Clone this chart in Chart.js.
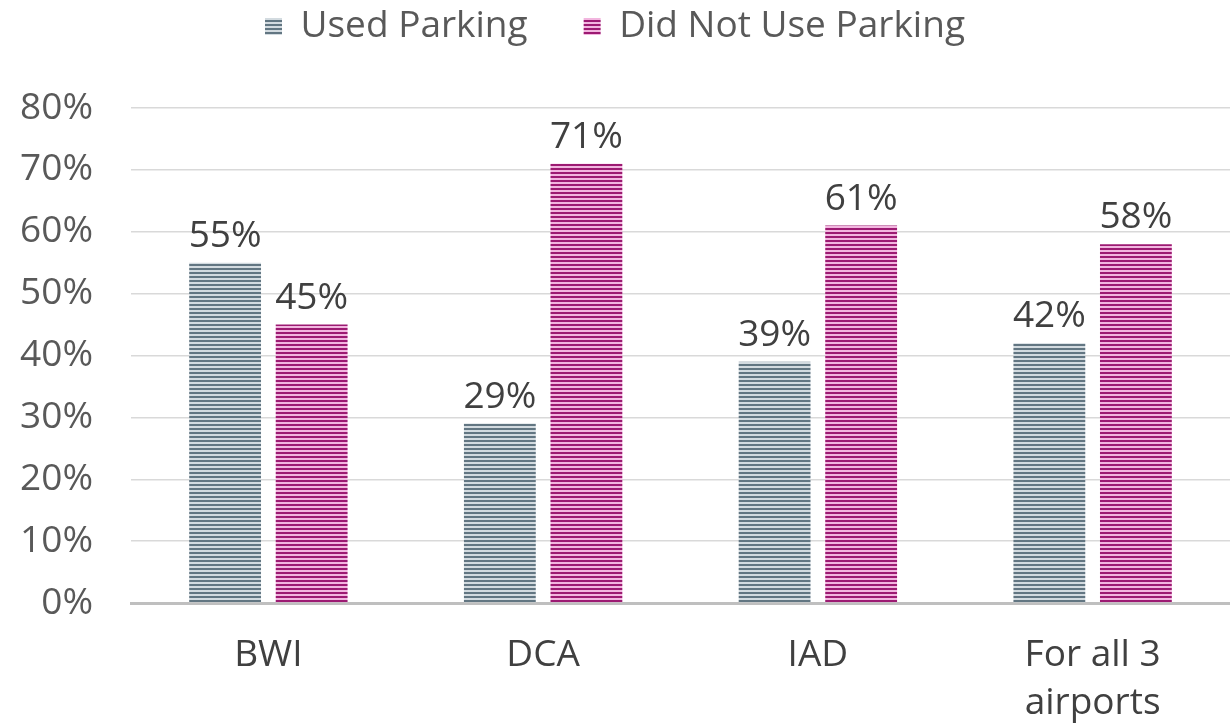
<!DOCTYPE html>
<html>
<head>
<meta charset="utf-8">
<script src="https://cdn.jsdelivr.net/npm/chart.js@4"></script>
<style>
  html, body { margin: 0; padding: 0; background: #fff; }
  #wrap { width: 1230px; height: 724px; }
</style>
</head>
<body>
<div id="wrap"><canvas id="chart"></canvas></div>
<script>
// Chart data
const categories = ['BWI', 'DCA', 'IAD', ['For all 3', 'airports']];
const usedParking = [55, 29, 39, 42];
const didNotUseParking = [45, 71, 61, 58];
const yTicks = [0, 10, 20, 30, 40, 50, 60, 70, 80];

const FONT = '"Open Sans", "Liberation Sans", sans-serif';
const SIZE = 37;

// Horizontal stripe fill like the original bars
function stripes(dark, light) {
    const c = document.createElement('canvas');
    c.width = 4;
    c.height = 4;
    const g = c.getContext('2d');
    g.fillStyle = light;
    g.fillRect(0, 0, 4, 4);
    g.fillStyle = dark;
    g.fillRect(0, 0, 4, 2);
    return g.createPattern(c, 'repeat');
}

const grayFill = stripes('#627682', '#d3dbe0');
const pinkFill = stripes('#9c1a72', '#f2b6df');

// Value labels above each bar
const valueLabels = {
    id: 'valueLabels',
    afterDatasetsDraw(chart) {
        const ctx = chart.ctx;
        ctx.save();
        ctx.font = SIZE + 'px ' + FONT;
        ctx.fillStyle = '#404040';
        ctx.textAlign = 'center';
        ctx.textBaseline = 'bottom';
        chart.data.datasets.forEach((ds, i) => {
            chart.getDatasetMeta(i).data.forEach((bar, j) => {
                ctx.fillText(ds.data[j] + '%', bar.x, bar.y - 8);
            });
        });
        ctx.restore();
    }
};

// Extra room between the legend and the plot
const legendGap = {
    id: 'legendGap',
    beforeInit(chart) {
        const fit = chart.legend.fit;
        chart.legend.fit = function () {
            fit.bind(chart.legend)();
            this.height += 53;
        };
    }
};

new Chart(document.getElementById('chart'), {
    type: 'bar',
    data: {
        labels: categories,
        datasets: [{
            label: 'Used Parking',
            data: usedParking,
            backgroundColor: grayFill,
            borderWidth: 0
        }, {
            label: 'Did Not Use Parking',
            data: didNotUseParking,
            backgroundColor: pinkFill,
            borderWidth: 0
        }]
    },
    options: {
        responsive: true,
        maintainAspectRatio: false,
        animation: false,
        layout: {
            padding: { top: -48, right: 0, bottom: 0, left: 0 }
        },
        datasets: {
            bar: {
                categoryPercentage: 0.63,
                barPercentage: 0.83
            }
        },
        plugins: {
            tooltip: { enabled: false },
            legend: {
                position: 'top',
                labels: {
                    boxWidth: 17,
                    boxHeight: 17,
                    padding: 56,
                    color: '#595959',
                    font: { family: FONT, size: SIZE }
                }
            }
        },
        scales: {
            x: {
                afterFit(scale) {
                    scale.height = 121;
                },
                grid: { display: false, tickLength: 0 },
                border: { display: true, color: '#bfbfbf', width: 3 },
                ticks: {
                    color: '#404040',
                    padding: 28,
                    font: { family: FONT, size: SIZE, lineHeight: 1.3 },
                    maxRotation: 0
                }
            },
            y: {
                min: 0,
                max: 80,
                afterBuildTicks(scale) {
                    scale.ticks = yTicks.map(v => ({ value: v }));
                },
                afterFit(scale) {
                    scale.width = 131;
                },
                grid: { color: '#d9d9d9', lineWidth: 1.5, drawTicks: false },
                border: { display: false },
                ticks: {
                    color: '#595959',
                    padding: 38,
                    font: { family: FONT, size: SIZE },
                    callback: v => v + '%'
                }
            }
        }
    },
    plugins: [valueLabels, legendGap]
});
</script>
</body>
</html>
